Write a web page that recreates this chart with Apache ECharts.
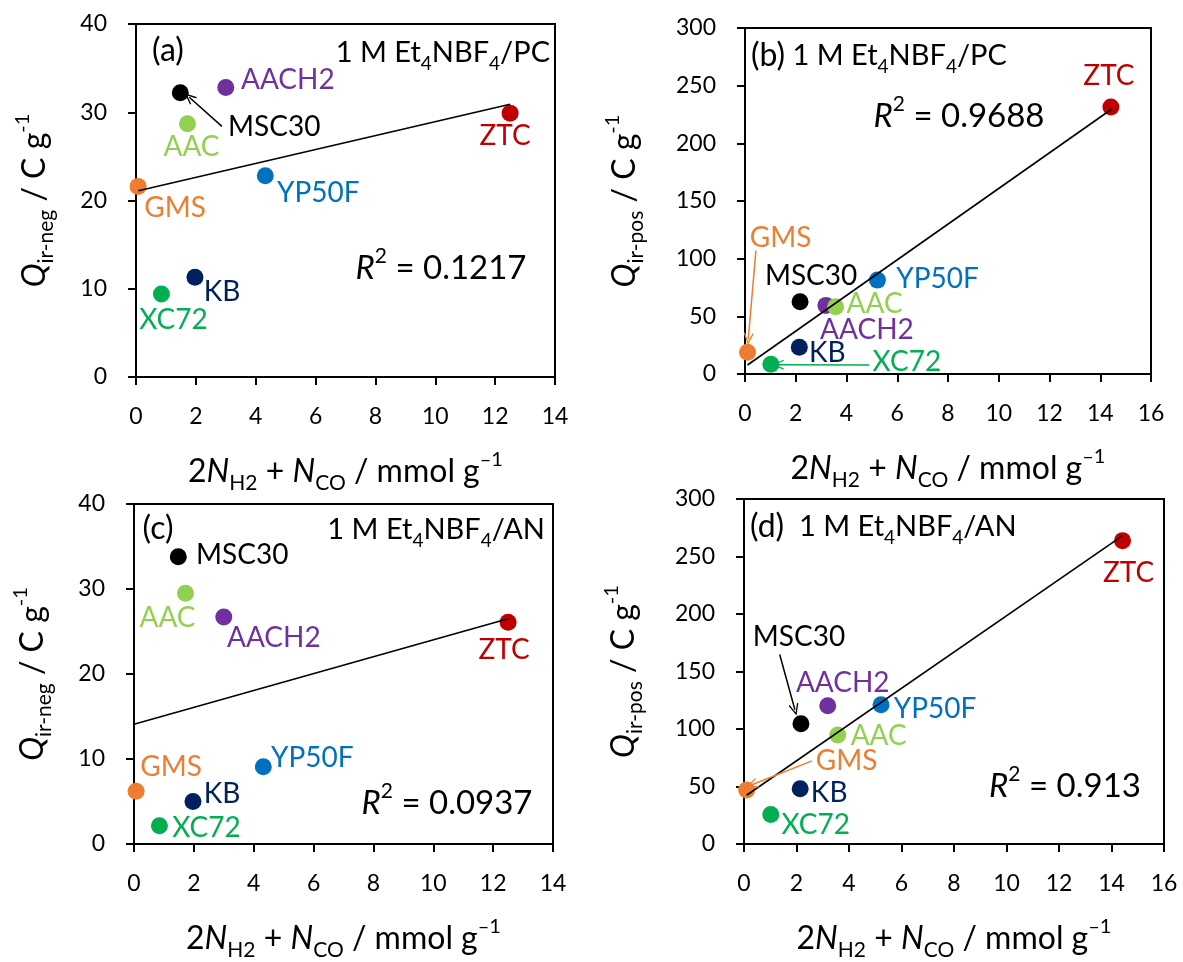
<!DOCTYPE html>
<html>
<head>
<meta charset="utf-8">
<script src="https://cdn.jsdelivr.net/npm/echarts@6/dist/echarts.min.js"></script>
<style>
html,body{margin:0;padding:0;background:#fff;}
#chart{width:1183px;height:962px;}
</style>
</head>
<body>
<div id="chart"></div>
<script>
// ---------- data ----------
const materials = ['ZTC', 'AACH2', 'MSC30', 'AAC', 'YP50F', 'GMS', 'KB', 'XC72'];
const colors = ['#C00000', '#7030A0', '#000000', '#92D050', '#0070C0', '#ED7D31', '#002060', '#00B050'];

// x values (2N_H2 + N_CO, mmol/g)
const xNeg = [12.5, 3.0, 1.48, 1.72, 4.32, 0.07, 1.97, 0.85];   // panels (a),(c)
const xPos = [14.42, 3.19, 2.17, 3.57, 5.22, 0.10, 2.14, 1.02]; // panels (b),(d)

// y values (C/g)
const yA = [29.9, 32.8, 32.2, 28.7, 22.8, 21.6, 11.3, 9.4];       // Q_ir-neg, PC
const yB = [231.5, 59.5, 62.6, 58.3, 81.4, 18.8, 23.1, 8.4];      // Q_ir-pos, PC
const yC = [26.1, 26.7, 33.8, 29.5, 9.1, 6.2, 5.0, 2.15];         // Q_ir-neg, AN
const yD = [263.8, 120.2, 104.6, 94.7, 121.0, 46.9, 48.1, 25.7];  // Q_ir-pos, AN

// linear fit line end points
const fitA = [[0.08, 21.1], [12.5, 30.9]];
const fitB = [[0.1, 7.8], [14.47, 230.0]];
const fitC = [[0.0, 14.1], [12.5, 26.5]];
const fitD = [[0.1, 42.4], [14.41, 268.0]];

const r2Values = ['0.1217', '0.9688', '0.0937', '0.913'];

// axis ticks
const negTicks = {min: 0, max: 40, interval: 10};
const posTicks = {min: 0, max: 300, interval: 50};
const xNegTicks = {min: 0, max: 14, interval: 2};
const xPosTicks = {min: 0, max: 16, interval: 2};

// annotation arrows [from, to] in data units
const arrowsA = [{from: [2.87, 28.4], to: [1.78, 31.7], color: '#000000'}];
const arrowsB = [{from: [0.43, 107], to: [0.13, 30.5], color: '#ED7D31'},
                 {from: [4.89, 7.9], to: [1.30, 8.1], color: '#00B050'}];
const arrowsC = [];
const arrowsD = [{from: [1.36, 164.8], to: [1.94, 116.7], color: '#000000'},
                 {from: [2.59, 72.3], to: [0.30, 51.5], color: '#ED7D31'}];

// ---------- styles / layout ----------
const FONT = 'Lato';
const grids = [
  {left: 136, top: 24, width: 419, height: 353},
  {left: 745, top: 28, width: 406, height: 346},
  {left: 134, top: 504, width: 419, height: 353},
  {left: 744, top: 499, width: 420, height: 354}
];
// label offsets (px, label centre relative to point centre)
const labelOffsets = [
  {ZTC:[-5,23], AACH2:[62,-8], MSC30:[94,34], AAC:[4,23], YP50F:[53,17], GMS:[37,22], KB:[27,15], XC72:[12,26]},
  {ZTC:[-2,-31], AACH2:[41,25], MSC30:[11,-26], AAC:[39,-3], YP50F:[60,-1], GMS:[33,-114], KB:[28,6], XC72:[136,-2]},
  {ZTC:[-4,28], AACH2:[50,21], MSC30:[64,-2], AAC:[-18,25], YP50F:[49,-9], GMS:[35,-24], KB:[29,-8], XC72:[47,2]},
  {ZTC:[6,32], AACH2:[15,-23], MSC30:[-2,-87], AAC:[41,1], YP50F:[54,4], GMS:[100,-29], KB:[29,4], XC72:[45,11]}
];

const panels = [
  {xs: xNeg, ys: yA, fit: fitA, arrows: arrowsA, yt: negTicks, xt: xNegTicks, sub: 'ir-neg', yGap: 79},
  {xs: xPos, ys: yB, fit: fitB, arrows: arrowsB, yt: posTicks, xt: xPosTicks, sub: 'ir-pos', yGap: 98},
  {xs: xNeg, ys: yC, fit: fitC, arrows: arrowsC, yt: negTicks, xt: xNegTicks, sub: 'ir-neg', yGap: 79},
  {xs: xPos, ys: yD, fit: fitD, arrows: arrowsD, yt: posTicks, xt: xPosTicks, sub: 'ir-pos', yGap: 98}
];

const titleRich = {
  n: {fontFamily: FONT, fontSize: 32, color: '#000', lineHeight: 44, verticalAlign: 'middle'},
  i: {fontFamily: FONT, fontSize: 32, color: '#000', fontStyle: 'italic', lineHeight: 44, verticalAlign: 'middle'},
  s: {fontFamily: FONT, fontSize: 21, color: '#000', lineHeight: 19, verticalAlign: 'bottom'},
  p: {fontFamily: FONT, fontSize: 20, color: '#000', lineHeight: 22, verticalAlign: 'top'}
};

const xAxes = [], yAxes = [], series = [];
panels.forEach((p, k) => {
  xAxes.push({
    type: 'value', gridIndex: k, min: p.xt.min, max: p.xt.max, interval: p.xt.interval,
    axisLine: {lineStyle: {color: '#000', width: 2}},
    axisTick: {show: true, inside: false, length: 8, lineStyle: {color: '#000', width: 2}},
    axisLabel: {fontFamily: FONT, fontSize: 23, color: '#000', margin: 28},
    splitLine: {show: false},
    name: '{n|2}{i|N}{s|H2}{n| + }{i|N}{s|CO}{n| / mmol g}{p|\u20131}',
    nameLocation: 'middle', nameGap: 73,
    nameTextStyle: {rich: titleRich}
  });
  yAxes.push({
    type: 'value', gridIndex: k, min: p.yt.min, max: p.yt.max, interval: p.yt.interval,
    axisLine: {lineStyle: {color: '#000', width: 2}},
    axisTick: {show: true, inside: false, length: 8, lineStyle: {color: '#000', width: 2}},
    axisLabel: {fontFamily: FONT, fontSize: 23, color: '#000', margin: 29},
    splitLine: {show: false},
    name: '{i|Q}{s|' + p.sub + '}{n| / C g}{p|-1}',
    nameLocation: 'middle', nameGap: p.yGap, nameRotate: 90,
    nameTextStyle: {rich: titleRich}
  });
  const offs = labelOffsets[k];
  series.push({
    type: 'scatter', xAxisIndex: k, yAxisIndex: k, symbol: 'circle', symbolSize: 17, z: 2,
    data: materials.map((m, i) => ({
      name: m, value: [p.xs[i], p.ys[i]],
      itemStyle: {color: colors[i], opacity: 1},
      label: {show: true, formatter: m, position: 'inside', offset: offs[m],
              fontFamily: FONT, fontSize: 28, color: colors[i], opacity: 1, align: 'center', verticalAlign: 'middle'}
    })),
    itemStyle: {opacity: 1},
    emphasis: {disabled: true}
  });
  series.push({
    type: 'line', xAxisIndex: k, yAxisIndex: k, data: p.fit, showSymbol: false, symbol: 'none', z: 3,
    lineStyle: {color: '#000', width: 1.6},
    markLine: {
      silent: true, animation: false,
      symbol: ['none', 'path://M5,0 L10,11 L8.8,11.6 L5,3.2 L1.2,11.6 L0,11 Z'], symbolSize: [10, 12],
      label: {show: false},
      data: p.arrows.map(a => [
        {coord: a.from, lineStyle: {color: a.color, width: 1.5, type: 'solid'}, itemStyle: {color: a.color}},
        {coord: a.to}
      ])
    }
  });
});

const annRich = {
  n: {fontFamily: FONT, fontSize: 29, color: '#000', lineHeight: 40, verticalAlign: 'middle'},
  b: {fontFamily: FONT, fontSize: 32, color: '#000', lineHeight: 40, verticalAlign: 'middle'},
  s: {fontFamily: FONT, fontSize: 19, color: '#000', lineHeight: 18, verticalAlign: 'bottom'},
  i: {fontFamily: FONT, fontSize: 33, color: '#000', fontStyle: 'italic', lineHeight: 44, verticalAlign: 'middle'},
  m: {fontFamily: FONT, fontSize: 33, color: '#000', lineHeight: 44, verticalAlign: 'middle'},
  p: {fontFamily: FONT, fontSize: 21, color: '#000', lineHeight: 22, verticalAlign: 'top'}
};
function txt(text, x, y, align) {
  return {type: 'text', x: x, y: y, silent: true, z: 10,
    style: {text: text, rich: annRich, align: align, verticalAlign: 'middle', fill: '#000'}};
}
const electrolyte = (solv) => '{n|1 M Et}{s|4}{n|NBF}{s|4}{n|/' + solv + '}';
const r2 = (v) => '{i|R}{p|2}{m| = ' + v + '}';

const graphics = [
  txt('{b|(a)}', 168, 51, 'center'),
  txt(electrolyte('PC'), 550, 53, 'right'),
  txt(r2(r2Values[0]), 441, 268, 'center'),
  txt('{b|(b)}{n| }' + electrolyte('PC'), 751, 56, 'left'),
  txt(r2(r2Values[1]), 959, 116, 'center'),
  txt('{b|(c)}', 158, 529, 'center'),
  txt(electrolyte('AN'), 545, 530, 'right'),
  txt(r2(r2Values[2]), 447, 803, 'center'),
  txt('{b|(d)}{n|  }' + electrolyte('AN'), 750, 527, 'left'),
  txt(r2(r2Values[3]), 1065, 786, 'center')
];

const chart = echarts.init(document.getElementById('chart'), null, {renderer: 'canvas'});
chart.setOption({
  animation: false,
  backgroundColor: '#ffffff',
  textStyle: {fontFamily: FONT},
  grid: grids.map(g => Object.assign({show: true, borderColor: '#000', borderWidth: 2, containLabel: false}, g)),
  xAxis: xAxes,
  yAxis: yAxes,
  series: series,
  graphic: graphics
});
</script>
</body>
</html>
